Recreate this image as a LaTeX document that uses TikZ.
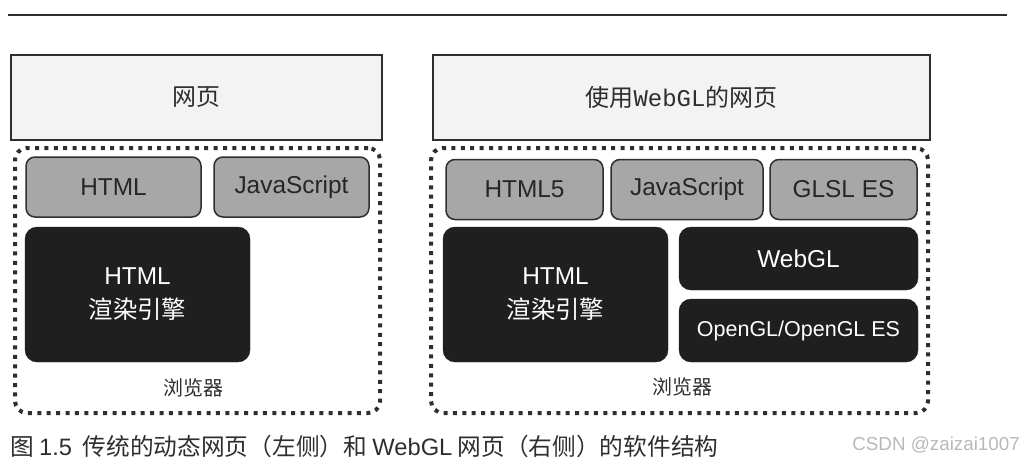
\documentclass[tikz,border=0pt]{standalone}
\usepackage{fontspec}
\setmainfont{Liberation Sans}
\newfontfamily\cjk{Noto Sans CJK SC}
\newfontfamily\mono{Liberation Mono}

\definecolor{ink}{HTML}{2E2E2E}
\definecolor{pagefill}{HTML}{F3F3F3}
\definecolor{langfill}{HTML}{A7A7A7}
\definecolor{enginefill}{HTML}{1F1F1F}
\definecolor{markgray}{HTML}{B8B8B8}

\tikzset{
  pagebox/.style={draw=ink, line width=2pt, fill=pagefill, inner sep=0pt,
    minimum height=85pt, text=ink, font=\fontsize{24}{28}\selectfont\cjk},
  langbox/.style={draw=ink, line width=1.5pt, fill=langfill, rounded corners=9pt,
    inner sep=0pt, minimum height=60pt, text=black!85, font=\fontsize{24.4}{28}\selectfont},
  enginebox/.style={draw=enginefill, fill=enginefill, rounded corners=12pt, inner sep=0pt,
    text=white, align=center, font=\fontsize{24.4}{34}\selectfont},
  browserbox/.style={draw=ink, line width=4pt, dash pattern=on 4pt off 5.4pt,
    rounded corners=12pt, inner sep=0pt, minimum height=265pt},
  browsertext/.style={text=ink, font=\fontsize{20}{24}\selectfont\cjk}
}

\begin{document}
\begin{tikzpicture}[x=1pt, y=-1pt]
    \useasboundingbox (0,0) rectangle (1024,469);
    \coordinate (ruleL) at (8,15);
    \coordinate (ruleR) at (1007,15);
    \draw[ink, line width=1.5pt] (ruleL) -- (ruleR);

    % traditional page (left)
    \node[pagebox, minimum width=371pt] (pageL) at (196.5,97.5) {网页};
    \node[browserbox, minimum width=365pt] (browserL) at (197.5,280.5) {};
    \node[langbox, minimum width=175pt] (htmlL) at (113.5,187) {HTML};
    \node[langbox, minimum width=155pt] (jsL) at (291.5,187) {JavaScript};
    \node[enginebox, minimum width=225pt, minimum height=135pt] (engineL) at (137.5,294.5) {HTML\\{\cjk 渲染引擎}};
    \node[browsertext] (labelL) at (193,388) {浏览器};

    % WebGL page (right)
    \node[pagebox, minimum width=497pt] (pageR) at (681.5,97.5) {使用{\mono WebGL}的网页};
    \node[browserbox, minimum width=497pt] (browserR) at (679.5,280.5) {};
    \node[langbox, minimum width=157pt] (htmlR) at (524.5,189.5) {HTML5};
    \node[langbox, minimum width=152pt] (jsR) at (687,189.5) {JavaScript};
    \node[langbox, minimum width=147pt] (glslR) at (843.5,189.5) {GLSL ES};
    \node[enginebox, minimum width=225pt, minimum height=135pt] (engineR) at (555.5,294.5) {HTML\\{\cjk 渲染引擎}};
    \node[enginebox, minimum width=239pt, minimum height=63pt] (webglR) at (798.5,258.5) {WebGL};
    \node[enginebox, minimum width=239pt, minimum height=63pt, font=\fontsize{21.5}{26}\selectfont] (openglR) at (798.5,330.5) {OpenGL/OpenGL ES};
    \node[browsertext] (labelR) at (682,387) {浏览器};

    \node[anchor=west, inner sep=0pt, text=ink, font=\fontsize{23.7}{28}\selectfont\cjk] (caption) at (10,446)
        {图 {\rmfamily 1.5}\ \ 传统的动态网页（左侧）和 {\rmfamily WebGL} 网页（右侧）的软件结构};
    \node[anchor=east, inner sep=0pt, text=markgray, font=\fontsize{18.8}{22}\selectfont] (mark) at (1020,445) {CSDN @zaizai1007};
\end{tikzpicture}
\end{document}
